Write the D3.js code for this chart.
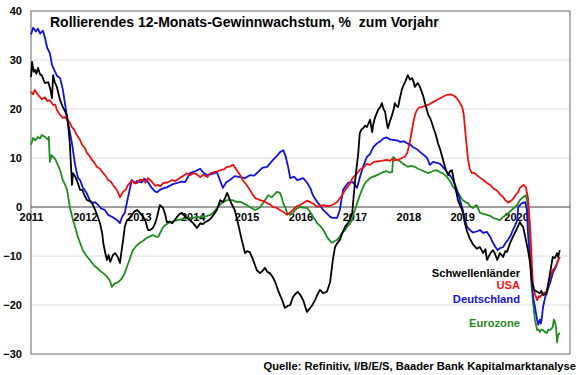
<!DOCTYPE html>
<html><head><meta charset="utf-8">
<script src="https://cdn.jsdelivr.net/npm/d3@7"></script>
<style>
html,body{margin:0;padding:0;background:#fff;}
text{font-family:"Liberation Sans",Arial,sans-serif;font-weight:bold;}
</style></head>
<body><svg id="c" width="580" height="375"></svg>
<script>
const title = "Rollierendes 12-Monats-Gewinnwachstum, %  zum Vorjahr";
const source = "Quelle: Refinitiv, I/B/E/S, Baader Bank Kapitalmarktanalyse";
const yearTicks = [2011,2012,2013,2014,2015,2016,2017,2018,2019,2020];
const yTicks = [40,30,20,10,0,-10,-20,-30];
const seriesNames = ["Schwellenländer","USA","Deutschland","Eurozone"];
const seriesColors = ["#000000","#ee1111","#1111dd","#1e8c1e"];

// [decimal year, % growth]
const deutschland = [[2011.00,35.2],[2011.04,36.6],[2011.09,35.8],[2011.13,36.4],[2011.17,35.4],[2011.22,36.0],[2011.26,34.5],[2011.30,32.5],[2011.35,31.4],[2011.39,29.0],[2011.43,28.0],[2011.48,26.8],[2011.54,26.3],[2011.59,24.0],[2011.66,19.0],[2011.76,13.0],[2011.82,8.5],[2011.87,6.0],[2011.91,5.5],[2011.96,4.0],[2012.03,2.9],[2012.09,1.4],[2012.15,0.8],[2012.19,1.0],[2012.24,0.5],[2012.30,-0.3],[2012.37,-0.6],[2012.43,-1.6],[2012.50,-2.0],[2012.56,-2.4],[2012.60,-2.7],[2012.65,-3.3],[2012.69,-2.0],[2012.74,-1.2],[2012.80,2.0],[2012.87,5.5],[2012.93,4.9],[2012.97,5.3],[2013.05,5.0],[2013.10,5.8],[2013.17,5.1],[2013.24,3.9],[2013.30,3.2],[2013.34,3.0],[2013.39,3.5],[2013.45,3.8],[2013.52,4.0],[2013.62,4.6],[2013.71,4.9],[2013.80,5.2],[2013.86,5.1],[2013.95,6.9],[2014.03,7.2],[2014.14,7.8],[2014.20,7.0],[2014.27,6.5],[2014.38,6.8],[2014.45,7.1],[2014.56,3.9],[2014.62,5.0],[2014.69,5.5],[2014.78,6.3],[2014.88,6.1],[2014.97,5.9],[2015.06,6.5],[2015.14,6.4],[2015.21,7.1],[2015.29,8.0],[2015.38,8.2],[2015.49,9.6],[2015.56,10.4],[2015.62,11.2],[2015.68,11.6],[2015.72,10.5],[2015.77,8.2],[2015.81,5.9],[2015.88,6.2],[2015.94,5.5],[2016.05,5.9],[2016.12,5.0],[2016.18,3.9],[2016.23,2.4],[2016.31,1.0],[2016.36,0.4],[2016.42,-0.6],[2016.49,-1.3],[2016.55,-2.0],[2016.60,-2.2],[2016.68,-2.2],[2016.73,-0.6],[2016.79,3.5],[2016.88,4.9],[2016.97,5.1],[2017.05,3.9],[2017.10,6.0],[2017.16,8.2],[2017.23,10.2],[2017.29,10.8],[2017.35,12.2],[2017.42,13.0],[2017.47,13.3],[2017.54,14.0],[2017.60,14.2],[2017.66,13.8],[2017.72,13.7],[2017.79,13.6],[2017.85,13.3],[2017.92,13.4],[2017.98,13.0],[2018.03,12.8],[2018.09,12.2],[2018.16,11.8],[2018.22,11.2],[2018.29,10.6],[2018.35,10.0],[2018.40,8.6],[2018.46,9.2],[2018.53,9.0],[2018.59,8.8],[2018.64,8.2],[2018.70,7.4],[2018.74,6.9],[2018.79,6.2],[2018.83,5.5],[2018.88,4.2],[2018.92,2.9],[2018.97,1.0],[2019.01,-0.6],[2019.05,-2.6],[2019.09,-4.0],[2019.14,-4.7],[2019.20,-5.2],[2019.27,-5.0],[2019.33,-4.7],[2019.39,-5.3],[2019.46,-5.1],[2019.52,-6.1],[2019.57,-7.3],[2019.62,-8.2],[2019.66,-8.8],[2019.70,-8.4],[2019.76,-8.2],[2019.80,-7.4],[2019.85,-6.7],[2019.90,-5.8],[2019.94,-4.7],[2019.98,-3.8],[2020.02,-2.7],[2020.04,0.0],[2020.08,0.5],[2020.11,0.8],[2020.17,1.0],[2020.20,-0.6],[2020.22,-5.3],[2020.26,-10.8],[2020.29,-16.3],[2020.32,-18.6],[2020.35,-20.4],[2020.39,-23.0],[2020.41,-24.0],[2020.44,-23.0],[2020.46,-23.8],[2020.48,-22.4],[2020.50,-20.4],[2020.54,-18.4],[2020.57,-17.6],[2020.60,-16.4],[2020.63,-15.5],[2020.68,-13.5],[2020.74,-12.2],[2020.78,-10.8],[2020.81,-10.2]];

const usa = [[2011.00,23.5],[2011.04,23.0],[2011.07,23.9],[2011.13,22.9],[2011.20,22.0],[2011.26,22.4],[2011.30,21.6],[2011.35,21.8],[2011.41,20.8],[2011.45,20.9],[2011.48,19.8],[2011.54,18.8],[2011.59,18.2],[2011.63,18.4],[2011.67,17.8],[2011.72,17.2],[2011.76,16.3],[2011.80,15.8],[2011.85,14.7],[2011.90,13.9],[2011.95,12.7],[2012.00,12.0],[2012.04,11.0],[2012.09,10.4],[2012.13,9.6],[2012.18,9.0],[2012.22,8.2],[2012.28,7.8],[2012.34,6.9],[2012.38,6.4],[2012.43,5.5],[2012.48,5.2],[2012.52,4.5],[2012.57,3.8],[2012.61,3.1],[2012.65,2.0],[2012.68,2.6],[2012.71,3.1],[2012.76,3.6],[2012.80,4.5],[2012.84,4.9],[2012.87,5.5],[2012.92,4.8],[2012.97,4.9],[2013.02,5.6],[2013.08,5.5],[2013.12,5.0],[2013.17,5.9],[2013.22,5.4],[2013.26,4.9],[2013.31,4.3],[2013.36,4.5],[2013.40,4.2],[2013.45,4.9],[2013.53,5.0],[2013.62,5.5],[2013.68,5.3],[2013.76,5.9],[2013.82,6.3],[2013.89,6.9],[2013.95,6.5],[2014.01,6.9],[2014.07,6.7],[2014.14,6.1],[2014.20,6.6],[2014.27,6.1],[2014.32,6.8],[2014.38,7.1],[2014.45,7.2],[2014.51,7.5],[2014.58,7.7],[2014.64,8.2],[2014.70,8.3],[2014.75,8.6],[2014.82,7.5],[2014.88,6.5],[2014.93,5.5],[2015.00,4.5],[2015.06,3.5],[2015.11,2.6],[2015.16,1.8],[2015.25,1.4],[2015.32,1.2],[2015.38,0.8],[2015.44,0.5],[2015.49,0.0],[2015.56,-0.2],[2015.62,-0.6],[2015.68,-1.0],[2015.75,-1.6],[2015.80,-1.2],[2015.86,-0.6],[2015.92,0.1],[2015.99,0.4],[2016.05,0.8],[2016.12,1.3],[2016.18,1.0],[2016.25,0.6],[2016.31,0.0],[2016.36,0.2],[2016.42,0.4],[2016.49,0.2],[2016.55,0.2],[2016.62,0.6],[2016.68,1.0],[2016.73,1.8],[2016.77,2.4],[2016.83,3.5],[2016.86,3.9],[2016.92,4.8],[2016.97,6.0],[2017.03,6.6],[2017.10,7.6],[2017.16,8.0],[2017.23,8.8],[2017.29,8.6],[2017.36,9.2],[2017.42,9.3],[2017.50,9.4],[2017.60,9.6],[2017.66,9.4],[2017.70,9.8],[2017.75,9.5],[2017.79,9.6],[2017.84,9.8],[2017.88,10.0],[2017.93,10.2],[2017.98,11.0],[2018.03,13.3],[2018.06,15.2],[2018.09,17.1],[2018.13,19.0],[2018.16,19.8],[2018.20,20.3],[2018.25,20.4],[2018.30,20.6],[2018.35,20.8],[2018.40,21.0],[2018.46,21.4],[2018.52,21.8],[2018.59,22.2],[2018.66,22.6],[2018.72,22.9],[2018.77,23.0],[2018.81,22.9],[2018.86,22.6],[2018.90,22.2],[2018.95,21.4],[2019.00,20.4],[2019.03,18.8],[2019.05,16.3],[2019.08,12.8],[2019.11,9.6],[2019.14,7.8],[2019.18,6.9],[2019.22,7.0],[2019.27,6.5],[2019.33,6.0],[2019.39,5.5],[2019.46,4.9],[2019.52,4.5],[2019.58,3.8],[2019.65,3.3],[2019.70,2.6],[2019.76,2.0],[2019.80,1.4],[2019.85,0.9],[2019.90,1.2],[2019.94,1.6],[2020.00,2.6],[2020.04,3.1],[2020.07,3.9],[2020.11,4.3],[2020.14,4.5],[2020.18,4.1],[2020.20,2.9],[2020.22,2.0],[2020.26,-4.0],[2020.29,-10.8],[2020.31,-15.5],[2020.35,-17.8],[2020.39,-19.0],[2020.42,-18.2],[2020.44,-18.4],[2020.50,-17.6],[2020.57,-17.3],[2020.60,-15.6],[2020.63,-14.3],[2020.68,-12.9],[2020.72,-12.4],[2020.76,-11.4],[2020.81,-10.2]];

const schwellenlaender = [[2011.00,26.5],[2011.02,29.6],[2011.05,27.6],[2011.07,28.0],[2011.10,27.2],[2011.13,28.4],[2011.17,27.0],[2011.20,26.9],[2011.23,26.0],[2011.26,25.3],[2011.32,25.5],[2011.36,24.0],[2011.39,22.2],[2011.41,26.9],[2011.44,25.5],[2011.48,24.5],[2011.54,21.8],[2011.59,20.4],[2011.63,19.6],[2011.67,18.4],[2011.70,15.5],[2011.72,13.0],[2011.76,4.5],[2011.78,6.9],[2011.82,6.2],[2011.85,5.5],[2011.91,3.5],[2011.95,3.5],[2012.00,2.2],[2012.04,1.4],[2012.09,1.2],[2012.13,0.8],[2012.15,0.4],[2012.19,-0.6],[2012.24,-2.0],[2012.28,-3.3],[2012.32,-5.3],[2012.34,-7.3],[2012.38,-9.5],[2012.41,-10.8],[2012.44,-9.8],[2012.47,-11.2],[2012.52,-9.8],[2012.56,-9.4],[2012.61,-10.2],[2012.65,-11.4],[2012.69,-8.2],[2012.71,-6.7],[2012.74,-4.0],[2012.78,-2.7],[2012.82,-2.4],[2012.87,-1.6],[2012.92,-0.9],[2012.97,-0.6],[2013.02,-1.2],[2013.07,-1.8],[2013.12,-2.7],[2013.17,-4.7],[2013.21,-4.7],[2013.26,-4.3],[2013.30,-3.4],[2013.34,-2.0],[2013.39,0.4],[2013.45,-0.2],[2013.49,-1.5],[2013.52,-3.1],[2013.57,-3.0],[2013.62,-3.3],[2013.67,-2.6],[2013.71,-2.0],[2013.76,-1.4],[2013.80,-1.2],[2013.85,-1.8],[2013.89,-2.2],[2013.94,-2.6],[2013.99,-3.1],[2014.03,-3.6],[2014.08,-4.3],[2014.14,-3.3],[2014.19,-3.5],[2014.23,-3.1],[2014.28,-2.8],[2014.32,-2.5],[2014.36,-2.0],[2014.41,-1.2],[2014.45,-0.6],[2014.51,1.4],[2014.56,1.0],[2014.60,1.8],[2014.64,2.9],[2014.69,1.4],[2014.75,0.0],[2014.78,-0.6],[2014.84,-3.3],[2014.91,-6.7],[2014.97,-9.4],[2015.01,-9.0],[2015.06,-9.2],[2015.12,-10.8],[2015.19,-12.9],[2015.25,-13.5],[2015.30,-13.0],[2015.34,-12.4],[2015.38,-13.2],[2015.43,-13.5],[2015.48,-14.2],[2015.53,-15.3],[2015.58,-16.9],[2015.62,-18.0],[2015.66,-19.0],[2015.71,-20.6],[2015.76,-20.2],[2015.81,-20.0],[2015.86,-18.4],[2015.90,-17.8],[2015.95,-17.3],[2016.00,-18.0],[2016.05,-19.0],[2016.09,-20.4],[2016.12,-21.4],[2016.18,-20.6],[2016.22,-20.0],[2016.27,-19.0],[2016.31,-18.0],[2016.36,-16.9],[2016.42,-17.6],[2016.49,-17.3],[2016.55,-15.3],[2016.60,-10.8],[2016.64,-8.2],[2016.68,-7.4],[2016.73,-6.7],[2016.78,-5.2],[2016.83,-4.0],[2016.88,-3.3],[2016.92,-2.5],[2016.96,-1.2],[2016.98,1.4],[2017.01,5.0],[2017.04,8.0],[2017.07,10.8],[2017.10,15.1],[2017.13,15.8],[2017.16,16.1],[2017.20,16.6],[2017.23,16.3],[2017.26,17.0],[2017.29,17.8],[2017.33,15.3],[2017.35,16.8],[2017.38,18.2],[2017.41,19.0],[2017.44,19.8],[2017.48,20.4],[2017.51,21.2],[2017.54,20.0],[2017.57,19.4],[2017.60,17.2],[2017.62,16.1],[2017.66,17.5],[2017.70,18.8],[2017.73,20.0],[2017.75,21.2],[2017.78,20.6],[2017.81,20.4],[2017.85,22.5],[2017.88,23.9],[2017.91,24.8],[2017.94,25.5],[2017.97,26.3],[2017.99,26.9],[2018.03,26.0],[2018.07,26.3],[2018.10,25.5],[2018.12,24.5],[2018.15,25.0],[2018.18,25.3],[2018.22,24.4],[2018.25,23.5],[2018.28,22.5],[2018.31,21.2],[2018.34,20.0],[2018.37,18.8],[2018.41,18.0],[2018.44,17.1],[2018.47,16.0],[2018.50,15.1],[2018.53,14.0],[2018.55,13.0],[2018.59,11.8],[2018.63,10.2],[2018.66,9.0],[2018.68,8.2],[2018.71,7.2],[2018.74,6.5],[2018.78,7.4],[2018.81,7.5],[2018.84,5.8],[2018.87,4.1],[2018.90,2.6],[2018.92,1.4],[2018.96,0.3],[2019.00,-0.6],[2019.03,-2.0],[2019.05,-3.3],[2019.09,-5.0],[2019.14,-6.4],[2019.20,-7.6],[2019.27,-8.5],[2019.33,-8.2],[2019.39,-9.4],[2019.43,-8.6],[2019.46,-10.8],[2019.52,-9.5],[2019.57,-8.8],[2019.61,-9.6],[2019.65,-10.8],[2019.70,-9.4],[2019.76,-10.2],[2019.80,-9.0],[2019.83,-9.2],[2019.89,-7.3],[2019.94,-6.1],[2019.98,-5.2],[2020.02,-4.3],[2020.07,-3.1],[2020.10,-3.6],[2020.13,-4.1],[2020.17,-6.1],[2020.22,-8.8],[2020.26,-11.4],[2020.29,-14.9],[2020.33,-16.9],[2020.39,-17.3],[2020.44,-17.6],[2020.47,-17.1],[2020.50,-18.0],[2020.54,-17.8],[2020.57,-17.3],[2020.60,-15.5],[2020.63,-13.5],[2020.66,-11.5],[2020.68,-10.2],[2020.72,-10.4],[2020.76,-9.4],[2020.78,-10.2],[2020.81,-8.8]];

const eurozone = [[2011.00,12.7],[2011.04,14.1],[2011.08,13.6],[2011.13,14.3],[2011.17,14.0],[2011.20,14.7],[2011.26,14.3],[2011.30,13.9],[2011.32,13.7],[2011.33,14.3],[2011.35,9.2],[2011.38,10.6],[2011.41,10.2],[2011.45,9.8],[2011.48,9.0],[2011.54,7.5],[2011.59,5.5],[2011.63,4.6],[2011.67,3.5],[2011.72,0.0],[2011.78,-2.7],[2011.83,-4.5],[2011.87,-6.1],[2011.92,-7.6],[2011.96,-8.8],[2012.03,-10.0],[2012.09,-10.8],[2012.16,-11.8],[2012.22,-12.4],[2012.28,-13.0],[2012.34,-13.5],[2012.39,-14.0],[2012.43,-14.5],[2012.47,-15.2],[2012.50,-16.3],[2012.55,-15.6],[2012.60,-15.5],[2012.65,-15.0],[2012.69,-14.5],[2012.74,-13.5],[2012.78,-12.2],[2012.84,-10.4],[2012.89,-8.8],[2012.95,-8.0],[2013.02,-7.3],[2013.08,-6.9],[2013.15,-6.3],[2013.21,-6.0],[2013.26,-5.7],[2013.31,-6.0],[2013.36,-6.1],[2013.40,-5.2],[2013.45,-4.1],[2013.50,-3.6],[2013.54,-3.3],[2013.62,-3.0],[2013.71,-2.7],[2013.80,-2.5],[2013.89,-2.2],[2013.98,-2.3],[2014.08,-2.0],[2014.17,-2.1],[2014.27,-1.8],[2014.33,-1.6],[2014.38,-1.2],[2014.45,-0.2],[2014.50,0.4],[2014.54,0.8],[2014.60,1.2],[2014.64,1.4],[2014.73,1.4],[2014.78,1.2],[2014.82,1.0],[2014.88,1.1],[2014.93,0.8],[2015.00,0.4],[2015.06,0.0],[2015.11,-0.3],[2015.16,-0.6],[2015.20,-0.4],[2015.25,0.0],[2015.30,0.7],[2015.34,1.4],[2015.40,2.4],[2015.47,2.0],[2015.52,2.6],[2015.56,3.1],[2015.62,2.9],[2015.65,2.0],[2015.68,0.8],[2015.72,-0.2],[2015.75,-1.2],[2015.81,-1.6],[2015.86,-1.2],[2015.90,-0.6],[2015.95,-0.2],[2015.99,0.0],[2016.05,-0.1],[2016.12,-0.2],[2016.17,-0.8],[2016.21,-1.6],[2016.26,-2.4],[2016.31,-3.3],[2016.36,-3.8],[2016.40,-4.3],[2016.45,-5.2],[2016.49,-6.1],[2016.54,-6.8],[2016.58,-7.3],[2016.63,-7.0],[2016.68,-6.7],[2016.72,-6.2],[2016.77,-5.3],[2016.82,-4.8],[2016.86,-4.1],[2016.91,-3.6],[2016.96,-2.5],[2016.99,-1.2],[2017.01,-0.6],[2017.04,0.4],[2017.07,1.4],[2017.10,2.4],[2017.14,3.5],[2017.17,4.2],[2017.20,4.9],[2017.25,5.5],[2017.29,5.9],[2017.35,6.2],[2017.42,6.5],[2017.47,6.8],[2017.53,7.1],[2017.60,7.3],[2017.66,7.0],[2017.70,7.1],[2017.72,10.2],[2017.76,9.8],[2017.79,9.6],[2017.84,9.4],[2017.88,9.0],[2017.94,8.6],[2017.99,8.2],[2018.05,8.4],[2018.12,8.2],[2018.18,7.8],[2018.25,7.5],[2018.31,7.2],[2018.37,6.9],[2018.43,7.2],[2018.50,7.5],[2018.55,7.4],[2018.59,7.1],[2018.65,6.8],[2018.72,6.1],[2018.78,5.2],[2018.83,4.1],[2018.88,3.5],[2018.92,2.9],[2018.97,2.1],[2019.01,1.4],[2019.06,1.0],[2019.11,0.8],[2019.14,0.2],[2019.20,-0.2],[2019.24,0.2],[2019.27,0.4],[2019.33,-1.2],[2019.39,-1.4],[2019.46,-1.6],[2019.52,-1.8],[2019.57,-2.2],[2019.63,-2.4],[2019.70,-2.7],[2019.76,-2.0],[2019.83,-1.6],[2019.88,-1.0],[2019.92,-0.6],[2019.97,-0.1],[2020.02,0.4],[2020.07,1.4],[2020.13,2.0],[2020.18,2.4],[2020.20,1.6],[2020.22,-0.6],[2020.26,-7.3],[2020.29,-14.3],[2020.31,-19.0],[2020.35,-23.0],[2020.39,-25.1],[2020.42,-25.0],[2020.44,-25.5],[2020.47,-25.0],[2020.50,-25.1],[2020.54,-25.6],[2020.57,-25.7],[2020.60,-25.0],[2020.63,-25.1],[2020.68,-24.5],[2020.70,-23.0],[2020.72,-23.4],[2020.74,-24.5],[2020.76,-27.6],[2020.78,-26.1],[2020.81,-25.7]];

const seriesData = [schwellenlaender, usa, deutschland, eurozone];

const svg = d3.select("#c");
const L = 31, R = 570, T = 11, B = 354;
const x = d3.scaleLinear().domain([2011, 2021]).range([L, R]);
const y = d3.scaleLinear().domain([-30, 40]).range([B, T]);

// gridlines
svg.append("g").selectAll("line").data(yTicks.filter(v => v !== 0 && v !== 40 && v !== -30))
  .join("line").attr("x1", L).attr("x2", R).attr("y1", d => y(d)).attr("y2", d => y(d))
  .attr("stroke", "#dcdcdc").attr("stroke-width", 1);

// frame
svg.append("rect").attr("x", L).attr("y", T).attr("width", R - L).attr("height", B - T)
  .attr("fill", "none").attr("stroke", "#7f7f7f").attr("stroke-width", 1.2);

// y axis labels
const yAxis = d3.axisLeft(y).tickValues(yTicks).tickSize(0).tickPadding(9).tickFormat(d3.format("d"));
const gy = svg.append("g").attr("transform", `translate(${L},0)`).call(yAxis);
gy.select(".domain").remove();
gy.selectAll("text").attr("font-size", 11).attr("font-weight", "bold").attr("fill", "#000")
  .attr("font-family", "Liberation Sans, Arial, sans-serif");

// zero line
svg.append("line").attr("x1", L).attr("x2", R).attr("y1", y(0)).attr("y2", y(0))
  .attr("stroke", "#404040").attr("stroke-width", 1);

// x axis labels below zero line
const xAxis = d3.axisBottom(x).tickValues(yearTicks).tickSize(0).tickPadding(6).tickFormat(d3.format("d"));
const gx = svg.append("g").attr("transform", `translate(0,${y(0)})`).call(xAxis);
gx.select(".domain").remove();
gx.selectAll("text").attr("font-size", 11).attr("font-weight", "bold").attr("fill", "#000")
  .attr("font-family", "Liberation Sans, Arial, sans-serif");

// lines
const line = d3.line().x(d => x(d[0])).y(d => y(d[1]));
const drawOrder = [3, 2, 1, 0];
svg.append("g").selectAll("path").data(drawOrder).join("path")
  .attr("d", i => line(seriesData[i])).attr("fill", "none")
  .attr("stroke", i => seriesColors[i]).attr("stroke-width", 1.8).attr("stroke-linejoin", "round");

// title
svg.append("text").attr("x", 50).attr("y", 27).attr("font-size", 14).style("white-space", "pre")
  .attr("fill", "#000").text(title);

// legend
const legendY = [277, 289, 303, 327];
svg.append("g").selectAll("text").data(seriesNames).join("text")
  .attr("x", 520).attr("y", (d, i) => legendY[i]).attr("text-anchor", "end")
  .attr("font-size", 11.2).attr("fill", (d, i) => seriesColors[i]).text(d => d);

// source
svg.append("text").attr("x", 576).attr("y", 370).attr("text-anchor", "end")
  .attr("font-size", 11.2).attr("fill", "#000").text(source);
</script></body></html>
